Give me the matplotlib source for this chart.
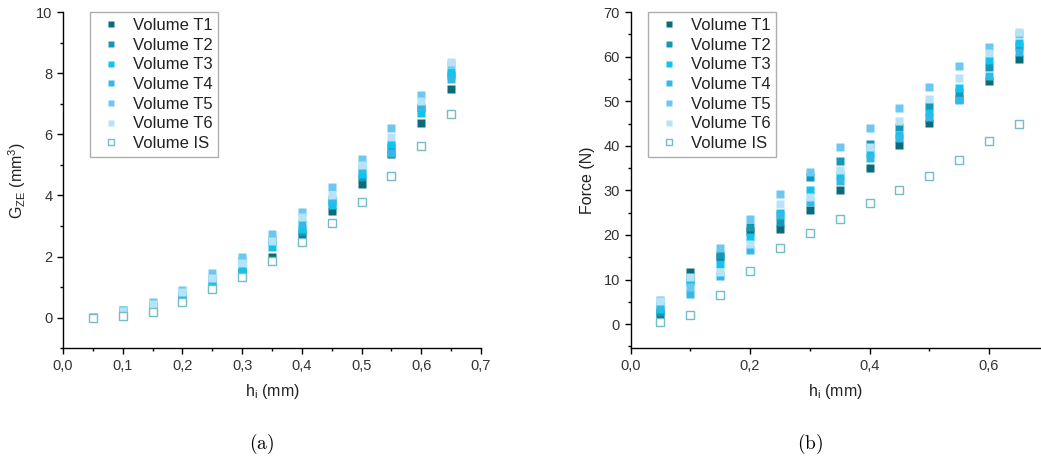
import numpy as np
import matplotlib
matplotlib.use('Agg')
import matplotlib.pyplot as plt
from matplotlib.ticker import MultipleLocator, FuncFormatter

plt.rcParams['font.family'] = ['Liberation Sans', 'DejaVu Sans']

# ── data ─────────────────────────────────────────────────────
h_i = [0.05, 0.10, 0.15, 0.20, 0.25, 0.30, 0.35, 0.40, 0.45, 0.50, 0.55, 0.60, 0.65]
labels = ['Volume T1', 'Volume T2', 'Volume T3', 'Volume T4',
          'Volume T5', 'Volume T6', 'Volume IS']

# (a) G_ZE (mm^3)
gze_t1 = [0.00, 0.15, 0.25, 0.55, 0.95, 1.45, 2.00, 2.70, 3.50, 4.36, 5.35, 6.37, 7.50]
gze_t2 = [0.00, 0.20, 0.30, 0.60, 1.00, 1.50, 2.50, 2.80, 3.80, 4.60, 5.60, 6.85, 7.93]
gze_t3 = [0.02, 0.20, 0.35, 0.65, 1.10, 1.60, 2.30, 2.90, 3.70, 4.70, 5.70, 6.70, 8.03]
gze_t4 = [0.02, 0.25, 0.40, 0.75, 1.25, 1.85, 2.55, 3.10, 3.90, 4.90, 5.38, 6.90, 7.80]
gze_t5 = [0.03, 0.25, 0.50, 0.90, 1.45, 2.00, 2.75, 3.45, 4.27, 5.20, 6.20, 7.30, 8.30]
gze_t6 = [0.02, 0.22, 0.45, 0.85, 1.30, 1.80, 2.50, 3.30, 4.00, 5.00, 5.90, 7.10, 8.36]
gze_is = [0.00, 0.05, 0.20, 0.50, 0.95, 1.34, 1.84, 2.46, 3.10, 3.80, 4.65, 5.63, 6.66]

# (b) Force (N)
force_t1 = [2.2, 11.6, 15.0, 21.0, 21.3, 25.5, 30.0, 35.1, 40.1, 45.2, 50.5, 54.6, 59.5]
force_t2 = [2.8, 10.0, 15.4, 21.7, 23.0, 33.1, 36.7, 40.5, 44.2, 49.0, 52.0, 57.7, 62.4]
force_t3 = [3.4, 9.4, 13.4, 19.5, 25.0, 30.0, 33.5, 38.5, 42.5, 47.4, 53.0, 59.3, 63.1]
force_t4 = [4.0, 6.7, 10.8, 16.6, 24.5, 27.3, 32.2, 37.3, 41.8, 46.5, 50.3, 55.7, 61.1]
force_t5 = [5.5, 8.3, 17.0, 23.5, 29.3, 34.2, 39.8, 44.1, 48.5, 53.3, 57.9, 62.2, 65.0]
force_t6 = [5.1, 10.5, 11.6, 18.0, 27.0, 28.6, 34.5, 39.8, 45.6, 50.6, 55.3, 60.8, 65.5]
force_is = [0.4, 2.0, 6.5, 11.9, 17.0, 20.4, 23.7, 27.1, 30.2, 33.3, 36.9, 41.2, 45.0]

colors = ['#0b6b78', '#1597b8', '#12c3ee', '#34b9e6', '#6cc7f1', '#b6e3f8']
is_edge = '#74bccb'

comma = FuncFormatter(lambda v, p: f'{v:.1f}'.replace('.', ','))

fig = plt.figure(figsize=(10.41, 4.68), dpi=100)
ax1 = fig.add_axes([0.0605, 0.256, 0.4015, 0.718])
ax2 = fig.add_axes([0.6057, 0.256, 0.3943, 0.718])


def draw(ax, series, is_vals):
    for vals, c, lab in zip(series, colors, labels):
        ax.plot(h_i, vals, 's', ms=6, color=c, mec='none', label=lab)
    ax.plot(h_i, is_vals, 's', ms=6, mfc='white', mec=is_edge, mew=1.0,
            label=labels[-1])
    for sp in ['top', 'right']:
        ax.spines[sp].set_visible(False)
    for sp in ['left', 'bottom']:
        ax.spines[sp].set_linewidth(1.0)
    ax.tick_params(which='major', direction='out', length=4, width=1,
                   labelsize=10.5, colors='black', labelcolor='#333333')
    ax.tick_params(which='minor', direction='out', length=2.5, width=1)
    ax.xaxis.set_major_formatter(comma)
    ax.set_xlabel('h$_{\\mathregular{i}}$ (mm)', fontsize=11.5, color='#222222',
                  labelpad=7)
    leg = ax.legend(loc='upper left', fontsize=12, frameon=True, fancybox=False,
                    edgecolor='#9a9a9a', labelspacing=0.28, handletextpad=0.4,
                    borderpad=0.35, handlelength=1.8, markerscale=0.8,
                    borderaxespad=0.0)
    leg.get_frame().set_linewidth(1.0)
    for t in leg.get_texts():
        t.set_color('#222222')
    return leg


leg1 = draw(ax1, [gze_t1, gze_t2, gze_t3, gze_t4, gze_t5, gze_t6], gze_is)
leg1.set_bbox_to_anchor((0.065, 1.0), transform=ax1.transAxes)
ax1.set_xlim(0, 0.7)
ax1.set_ylim(-1, 10)
ax1.xaxis.set_major_locator(MultipleLocator(0.1))
ax1.xaxis.set_minor_locator(MultipleLocator(0.05))
ax1.yaxis.set_major_locator(MultipleLocator(2))
ax1.yaxis.set_minor_locator(MultipleLocator(1))
ax1.set_ylabel('G$_{\\mathregular{ZE}}$ (mm$^{\\mathregular{3}}$)', fontsize=11.5,
               color='#222222', labelpad=6)

leg2 = draw(ax2, [force_t1, force_t2, force_t3, force_t4, force_t5, force_t6], force_is)
leg2.set_bbox_to_anchor((0.043, 1.0), transform=ax2.transAxes)
ax2.set_xlim(0, 0.687)
ax2.set_ylim(-5.4, 70)
ax2.xaxis.set_major_locator(MultipleLocator(0.2))
ax2.xaxis.set_minor_locator(MultipleLocator(0.1))
ax2.yaxis.set_major_locator(MultipleLocator(10))
ax2.yaxis.set_minor_locator(MultipleLocator(5))
ax2.set_ylabel('Force (N)', fontsize=11.5, color='#222222', labelpad=6)

fig.text(0.2515, 0.04, '$\\mathrm{(a)}$', fontsize=14, ha='center',
         math_fontfamily='cm')
fig.text(0.7785, 0.04, '$\\mathrm{(b)}$', fontsize=14, ha='center',
         math_fontfamily='cm')

fig.savefig('out.png', dpi=100)
